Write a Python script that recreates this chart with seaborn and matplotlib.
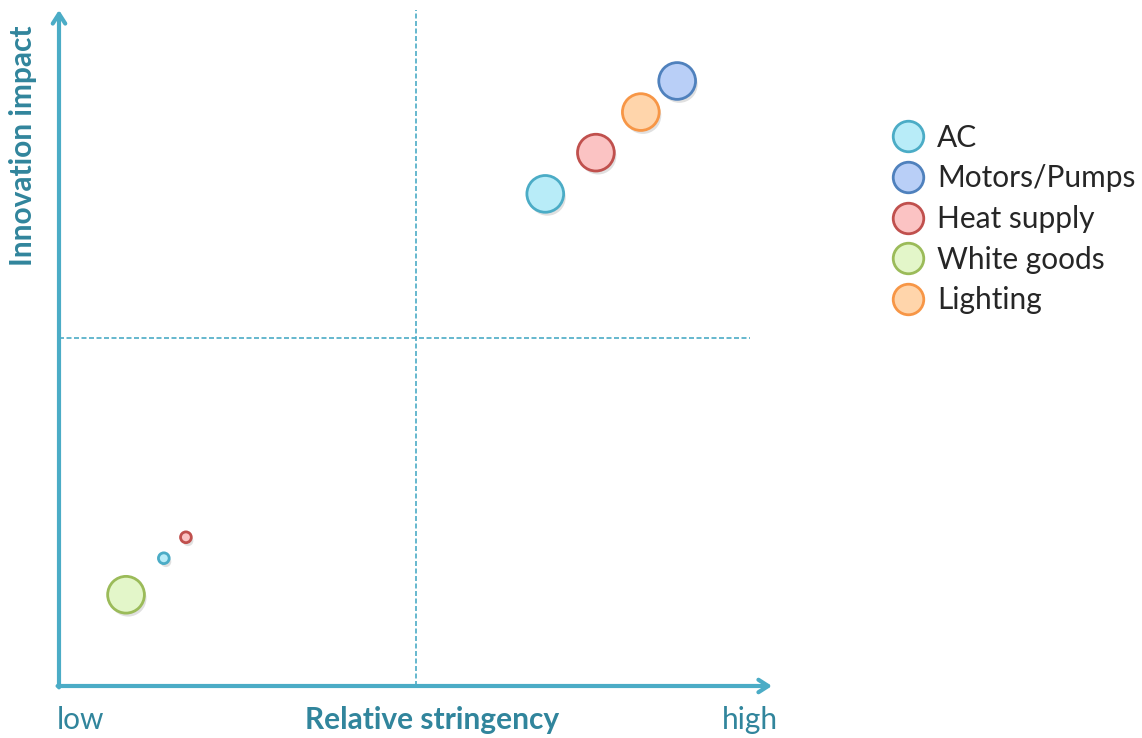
import matplotlib
matplotlib.use("Agg")
import matplotlib.pyplot as plt
import matplotlib.patheffects as pe
from matplotlib.lines import Line2D
import seaborn as sns
import pandas as pd

# ---- data ----
categories = ["AC", "Heat supply", "Lighting", "Motors/Pumps", "White goods", "AC", "Heat supply"]
stringency = [6.82, 7.53, 8.16, 8.67, 0.94, 1.47, 1.78]
impact = [7.28, 7.89, 8.49, 8.95, 1.35, 1.89, 2.20]
bubble = [10, 10, 10, 10, 10, 0.9, 0.9]
legend_order = ["AC", "Motors/Pumps", "Heat supply", "White goods", "Lighting"]
x_threshold = 5.0
y_threshold = 5.15

fills = {"AC": "#b8ecf8", "Motors/Pumps": "#b9cff7", "Heat supply": "#fbc3c3",
         "White goods": "#e3f6c9", "Lighting": "#ffd5ab"}
edges = {"AC": "#4bacc6", "Motors/Pumps": "#4f81bd", "Heat supply": "#c0504d",
         "White goods": "#9bbb59", "Lighting": "#f79646"}

df = pd.DataFrame({"category": categories, "x": stringency, "y": impact, "bubble": bubble})

sns.set_style("white")
plt.rcParams["font.family"] = ["Lato", "DejaVu Sans"]

W, H = 1142, 738
fig = plt.figure(figsize=(W / 100, H / 100), dpi=100)
ax = fig.add_axes([59 / W, (H - 686) / H, (772 - 59) / W, (686 - 10) / H])
ax.set_xlim(0, 10)
ax.set_ylim(0, 10)
for s in ax.spines.values():
    s.set_visible(False)
ax.set_xticks([])
ax.set_yticks([])

axis_col = "#4bacc6"
dash_kw = dict(color=axis_col, lw=1.2, dashes=(3, 1.5), zorder=1)
ax.axvline(x_threshold, 0, 1, **dash_kw)
ax.axhline(y_threshold, 0, (750 - 59) / (772 - 59), **dash_kw)

shadow = [pe.SimplePatchShadow(offset=(1.5, -2.5), shadow_rgbFace="#999999", alpha=0.3), pe.Normal()]
for cat in df["category"].unique():
    sub = df[df["category"] == cat]
    sns.scatterplot(data=sub, x="x", y="y", size="bubble", sizes=(60, 700),
                    size_norm=(min(bubble), max(bubble)), color=fills[cat],
                    edgecolor=edges[cat], linewidth=2, legend=False, ax=ax, zorder=3,
                    path_effects=shadow)
ax.set_xlabel("")
ax.set_ylabel("")

# axis arrows
arrow_kw = dict(arrowstyle="->,head_length=0.7,head_width=0.45", color=axis_col, lw=3,
                shrinkA=0, shrinkB=0)
ax.annotate("", xy=(1.0, 0), xytext=(-0.002, 0), xycoords="axes fraction",
            arrowprops=arrow_kw, annotation_clip=False, zorder=4)
ax.annotate("", xy=(0, 1.0), xytext=(0, -0.002), xycoords="axes fraction",
            arrowprops=arrow_kw, annotation_clip=False, zorder=4)

lab_col = "#31859c"
fs = 21.5
fig.text(23 / W, 1 - 146 / H, "Innovation impact", rotation=90, ha="center", va="center",
         fontsize=fs, fontweight="bold", color=lab_col)
fig.text(432 / W, 1 - 720 / H, "Relative stringency", ha="center", va="center",
         fontsize=fs, fontweight="bold", color=lab_col)
fig.text(57 / W, 1 - 720 / H, "low", ha="left", va="center", fontsize=fs, color=lab_col)
fig.text(778 / W, 1 - 720 / H, "high", ha="right", va="center", fontsize=fs, color=lab_col)

handles = [Line2D([], [], marker="o", ls="", markersize=22, markerfacecolor=fills[c],
                  markeredgecolor=edges[c], markeredgewidth=2) for c in legend_order]
fig.legend(handles, legend_order, loc="upper left", bbox_to_anchor=(874 / W, 1 - 112 / H),
           frameon=False, fontsize=fs, handletextpad=0.22, labelspacing=0.42,
           borderaxespad=0, handlelength=1.5)

fig.savefig("out.png", dpi=100)
